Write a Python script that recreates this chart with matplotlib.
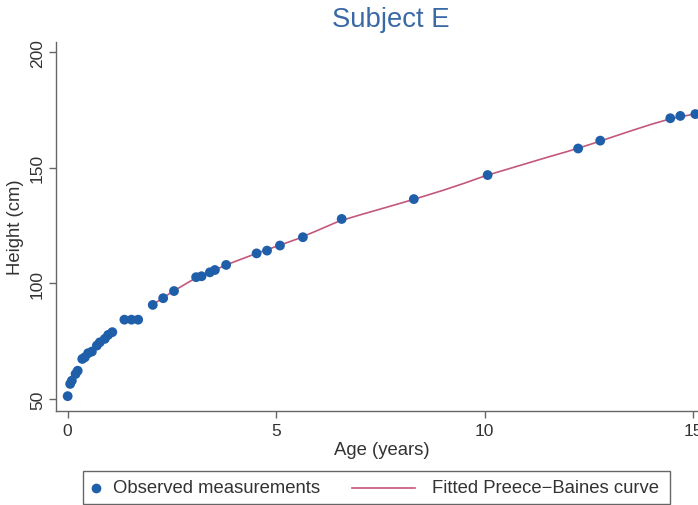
import matplotlib
matplotlib.use("Agg")
import matplotlib.pyplot as plt
from matplotlib.lines import Line2D
from matplotlib.patches import Rectangle

# observed measurements (age in years, height in cm)
obs_age = [0.00, 0.06, 0.10, 0.19, 0.24, 0.35, 0.41, 0.49, 0.58, 0.70, 0.77, 0.89,
           0.97, 1.07, 1.36, 1.53, 1.69, 2.04, 2.29, 2.55, 3.08, 3.21, 3.41, 3.53,
           3.80, 4.53, 4.78, 5.09, 5.64, 6.57, 8.30, 10.07, 12.24, 12.77, 14.45,
           14.69, 15.05]
obs_height = [51.2, 56.5, 57.9, 60.8, 62.2, 67.3, 68.0, 69.8, 70.5, 73.1, 74.5, 76.0,
              77.7, 78.9, 84.3, 84.3, 84.3, 90.7, 93.6, 96.7, 102.7, 103.1, 104.8, 105.8,
              108.0, 113.0, 114.2, 116.4, 120.0, 127.9, 136.5, 146.9, 158.4, 161.8, 171.5,
              172.5, 173.3]

# fitted Preece-Baines curve
fit_age = [2.04, 2.5, 3.0, 3.5, 4.0, 4.5, 5.0, 5.5, 6.0, 6.5, 7.0, 7.5, 8.0, 8.5,
           9.0, 9.5, 10.0, 10.5, 11.0, 11.5, 12.0, 12.5, 13.0, 13.5, 14.0, 14.5,
           15.0, 15.33]
fit_height = [90.8, 96.3, 101.6, 105.7, 109.4, 112.8, 116.0, 119.2, 123.0, 126.9,
              129.6, 132.2, 134.8, 137.5, 140.3, 143.3, 146.5, 149.2, 151.9, 154.6,
              157.2, 160.0, 163.0, 166.0, 168.9, 171.5, 173.2, 173.9]

x_ticks = [0, 5, 10, 15]
y_ticks = [50, 100, 150, 200]

W, H = 698, 506
plt.rcParams["font.family"] = ["Liberation Sans", "DejaVu Sans"]

fig = plt.figure(figsize=(W / 100, H / 100), dpi=100)
fig.patch.set_facecolor("white")

# axes placed in pixel terms; right end runs just past the cropped edge
left, right, top, bottom = 56, 707, 43, 411.7
ax = fig.add_axes([left / W, 1 - bottom / H, (right - left) / W, (bottom - top) / H])

dot_color = "#1f5ea8"
line_color = "#c4587a"
text_color = "#333333"
axis_color = "#666666"

ax.plot(fit_age, fit_height, color=line_color, linewidth=1.2, zorder=2)
ax.scatter(obs_age, obs_height, s=50, color=dot_color, edgecolors="none", zorder=3)

ax.set_xlim(-0.28, 15.33)
ax.set_ylim(44.9, 204.5)
ax.set_xticks(x_ticks)
ax.set_yticks(y_ticks)

for side in ("top", "right"):
    ax.spines[side].set_visible(False)
for side in ("left", "bottom"):
    ax.spines[side].set_color(axis_color)
    ax.spines[side].set_linewidth(1.0)

ax.tick_params(axis="both", direction="out", length=5, width=1.0, color=axis_color,
               labelsize=12.5, labelcolor=text_color)
ax.tick_params(axis="x", pad=4)
ax.tick_params(axis="y", pad=3)
for lab in ax.get_yticklabels():
    lab.set_rotation(90)
    lab.set_va("center")

ax.set_xlabel("Age (years)", fontsize=13.3, color=text_color, labelpad=2)
ax.set_ylabel("Height (cm)", fontsize=13.3, color=text_color, labelpad=4)

fig.text(391 / W, 1 - 20 / H, "Subject E", fontsize=19.8, color="#3a69a6",
         ha="center", va="center")

# legend drawn by hand so the box matches the reference layout
box = Rectangle((83 / W, 1 - 505 / H), (670 - 83) / W, (505 - 472) / H,
                transform=fig.transFigure, facecolor="white", edgecolor=axis_color,
                linewidth=1.0)
fig.add_artist(box)
ly = 1 - 488.5 / H
fig.add_artist(Line2D([96 / W], [ly], transform=fig.transFigure, marker="o",
                      markersize=7, color=dot_color, markeredgecolor="none",
                      linestyle="none"))
fig.text(113 / W, ly, "Observed measurements", fontsize=13.3, color=text_color,
         ha="left", va="center")
fig.add_artist(Line2D([352 / W, 415 / W], [ly, ly], transform=fig.transFigure,
                      color=line_color, linewidth=1.2))
fig.text(432 / W, ly, "Fitted Preece\u2212Baines curve", fontsize=13.3,
         color=text_color, ha="left", va="center")

fig.savefig("out.png", dpi=100)
